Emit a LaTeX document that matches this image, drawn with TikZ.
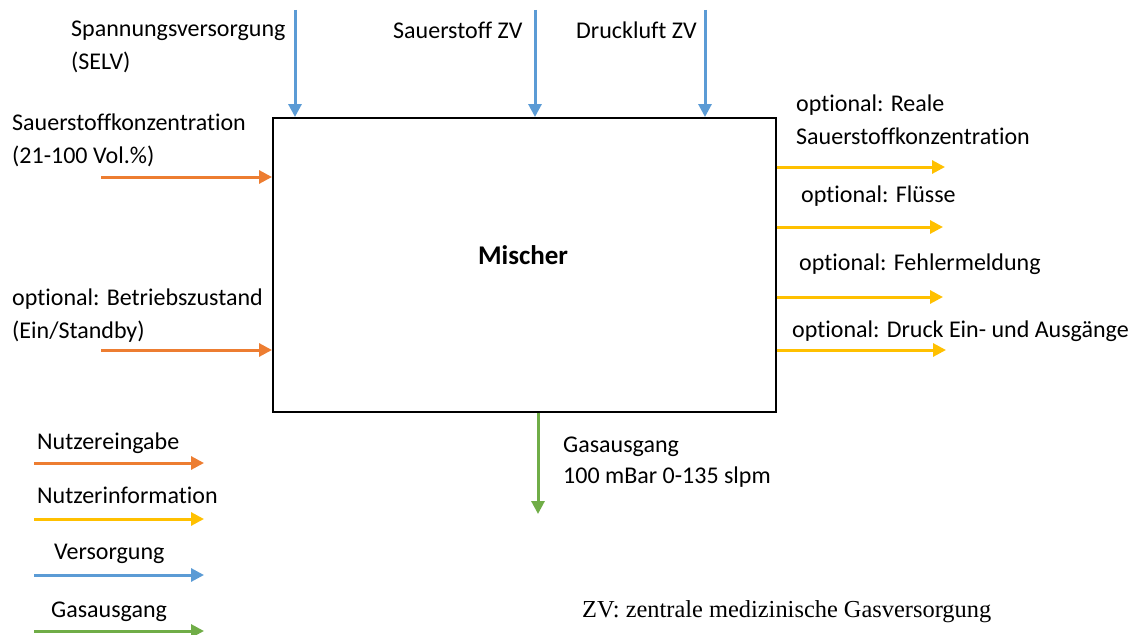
\documentclass[tikz,border=0pt]{standalone}
\usepackage{fontspec}
\setmainfont{Carlito}[Ligatures={NoCommon}]
\newfontfamily\timesf{Liberation Serif}
\usetikzlibrary{arrows.meta}
\definecolor{corange}{HTML}{ED7D31}
\definecolor{cyellow}{HTML}{FFC000}
\definecolor{cblue}{HTML}{5B9BD5}
\definecolor{cgreen}{HTML}{70AD47}
\tikzset{
  arr/.style={line width=3pt,-{Triangle[length=13pt,width=13pt]}},
  inarr/.style={arr,draw=corange},
  outarr/.style={arr,draw=cyellow},
  suparr/.style={arr,draw=cblue},
  gasarr/.style={arr,draw=cgreen},
  lbl/.style={anchor=base west,inner sep=0pt,font=\fontsize{24}{33}\selectfont},
}
\begin{document}
\begin{tikzpicture}[x=1pt,y=-1pt]
\useasboundingbox (0,0) rectangle (1139,634);
% main box
\node[draw=black,line width=1.6pt,minimum width=503pt,minimum height=294pt,inner sep=0pt,anchor=north west] (mix) at (272,117) {};
\node[font=\fontsize{27}{33}\selectfont\bfseries] (mixl) at (523,255) {Mischer};

% top supply arrows
\coordinate (s1) at (295,10);
\coordinate (s2) at (535,10);
\coordinate (s3) at (705,10);
\draw[suparr] (s1) -- (s1 |- mix.north);
\draw[suparr] (s2) -- (s2 |- mix.north);
\draw[suparr] (s3) -- (s3 |- mix.north);
\node[lbl] (ls1a) at (71,37) {Spannungsversorgung};
\node[lbl] (ls1b) at (71,70) {(SELV)};
\node[lbl] (ls2) at (393,38) {Sauerstoff ZV};
\node[lbl] (ls3) at (576,38) {Druckluft ZV};

% left input arrows
\coordinate (i1) at (101,177);
\coordinate (i2) at (101,350);
\draw[inarr] (i1) -- (i1 -| mix.west);
\draw[inarr] (i2) -- (i2 -| mix.west);
\node[lbl] (li1a) at (12,130) {Sauerstoffkonzentration};
\node[lbl] (li1b) at (12,163) {(21-100 Vol.\%)};
\node[lbl] (li2a) at (12,305) {optional: Betriebszustand};
\node[lbl] (li2b) at (12,338) {(Ein/Standby)};

% right output arrows
\coordinate (o1) at (945,167);
\coordinate (o2) at (943,227);
\coordinate (o3) at (943,297);
\coordinate (o4) at (946,350);
\draw[outarr] (o1 -| mix.east) -- (o1);
\draw[outarr] (o2 -| mix.east) -- (o2);
\draw[outarr] (o3 -| mix.east) -- (o3);
\draw[outarr] (o4 -| mix.east) -- (o4);
\node[lbl] (lo1a) at (796,111) {optional: Reale};
\node[lbl] (lo1b) at (796,144) {Sauerstoffkonzentration};
\node[lbl] (lo2) at (801,202) {optional: Flüsse};
\node[lbl] (lo3) at (799,270) {optional: Fehlermeldung};
\node[lbl] (lo4) at (792,337) {optional: Druck Ein- und Ausgänge};

% gas output
\coordinate (g1) at (538,514);
\draw[gasarr] (g1 |- mix.south) -- (g1);
\node[lbl] (lg1) at (563,452) {Gasausgang};
\node[lbl] (lg2) at (563,483) {100 mBar 0-135 slpm};

% legend
\coordinate (a1s) at (34,463);  \coordinate (a1e) at (204,463);
\coordinate (a2s) at (34,519);  \coordinate (a2e) at (204,519);
\coordinate (a3s) at (34,575);  \coordinate (a3e) at (204,575);
\coordinate (a4s) at (34,631);  \coordinate (a4e) at (204,631);
\draw[inarr] (a1s) -- (a1e);
\draw[outarr] (a2s) -- (a2e);
\draw[suparr] (a3s) -- (a3e);
\draw[gasarr] (a4s) -- (a4e);
\node[lbl] (la1) at (37,449) {Nutzereingabe};
\node[lbl] (la2) at (37,503) {Nutzerinformation};
\node[lbl] (la3) at (54,559) {Versorgung};
\node[lbl] (la4) at (51,617) {Gasausgang};

\node[anchor=base west,inner sep=0pt,font=\timesf\fontsize{24.4}{30}\selectfont] (zv) at (582,617) {ZV: zentrale medizinische Gasversorgung};
\end{tikzpicture}
\end{document}
